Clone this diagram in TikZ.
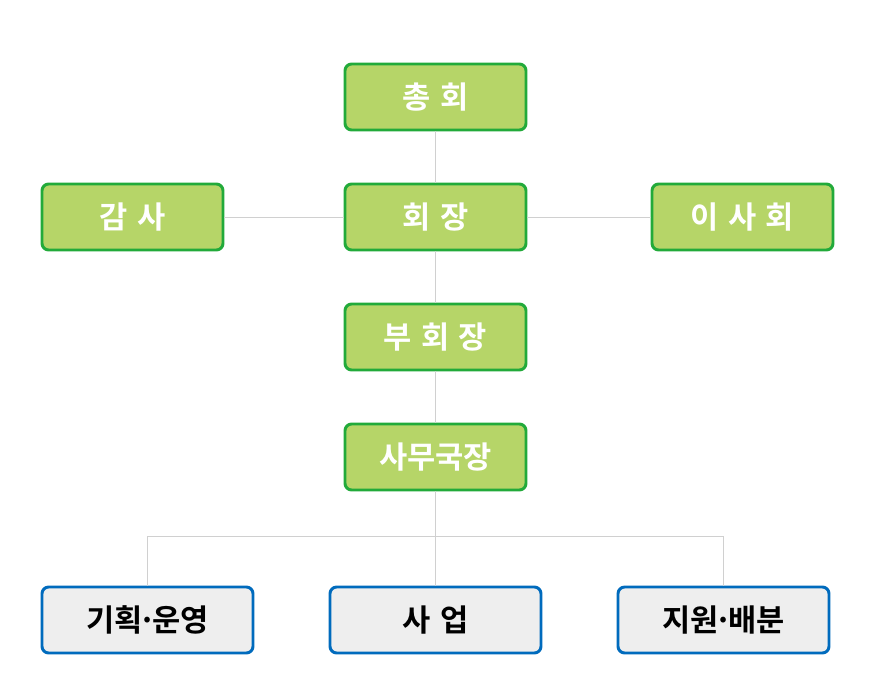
\documentclass[tikz,border=0pt]{standalone}
\usepackage{fontspec}
\setmainfont{Noto Sans CJK KR}[BoldFont={Noto Sans CJK KR Bold}]
\newcommand{\mdot}{\kern-0.14em·\kern-0.14em}
\newcommand{\wsp}{\hspace{0.3em}}
\begin{document}
\begin{tikzpicture}[x=0.75pt,y=-0.75pt,
  greenbox/.style={draw=gbd, fill=gbf, line width=2.2pt, rounded corners=5pt,
    minimum width=181*0.75pt, minimum height=66*0.75pt, inner sep=0pt,
    text=white, font=\fontsize{23}{25}\selectfont\bfseries},
  bluebox/.style={draw=bbd, fill=bbf, line width=2.2pt, rounded corners=5pt,
    minimum width=211*0.75pt, minimum height=66*0.75pt, inner sep=0pt,
    text=black, font=\fontsize{23}{25}\selectfont\bfseries},
  conn/.style={draw=lc, line width=0.75pt}]
\definecolor{gbd}{RGB}{34,170,58}
\definecolor{gbf}{RGB}{182,213,104}
\definecolor{bbd}{RGB}{0,107,189}
\definecolor{bbf}{RGB}{238,238,238}
\definecolor{lc}{RGB}{208,208,208}
\useasboundingbox (0,0) rectangle (870,696);
\fill[white] (0,0) rectangle (870,696);
\coordinate (bus) at (435.5,536);
\node[greenbox] (chong) at (435.5,97) {총\wsp 회};
\node[greenbox] (gamsa) at (132.5,217) {감\wsp 사};
\node[greenbox] (hoejang) at (435.5,217) {회\wsp 장};
\node[greenbox] (isa) at (742.5,217) {이\wsp 사\wsp 회};
\node[greenbox] (bu) at (435.5,337) {부\wsp 회\wsp 장};
\node[greenbox] (samu) at (435.5,457) {사무국장};
\node[bluebox] (gihoek) at (147.5,620) {기획\mdot 운영};
\node[bluebox] (saeop) at (435.5,620) {사\wsp 업};
\node[bluebox] (jiwon) at (723.5,620) {지원\mdot 배분};
\path[conn] (chong.south) -- (hoejang.north);
\path[conn] (hoejang.west) -- (gamsa.east);
\path[conn] (hoejang.east) -- (isa.west);
\path[conn] (hoejang.south) -- (bu.north);
\path[conn] (bu.south) -- (samu.north);
\path[conn] (samu.south) -- (bus);
\path[conn] (bus) -- (saeop.north);
\path[conn] (bus) -| (gihoek.north);
\path[conn] (bus) -| (jiwon.north);
\end{tikzpicture}
\end{document}
